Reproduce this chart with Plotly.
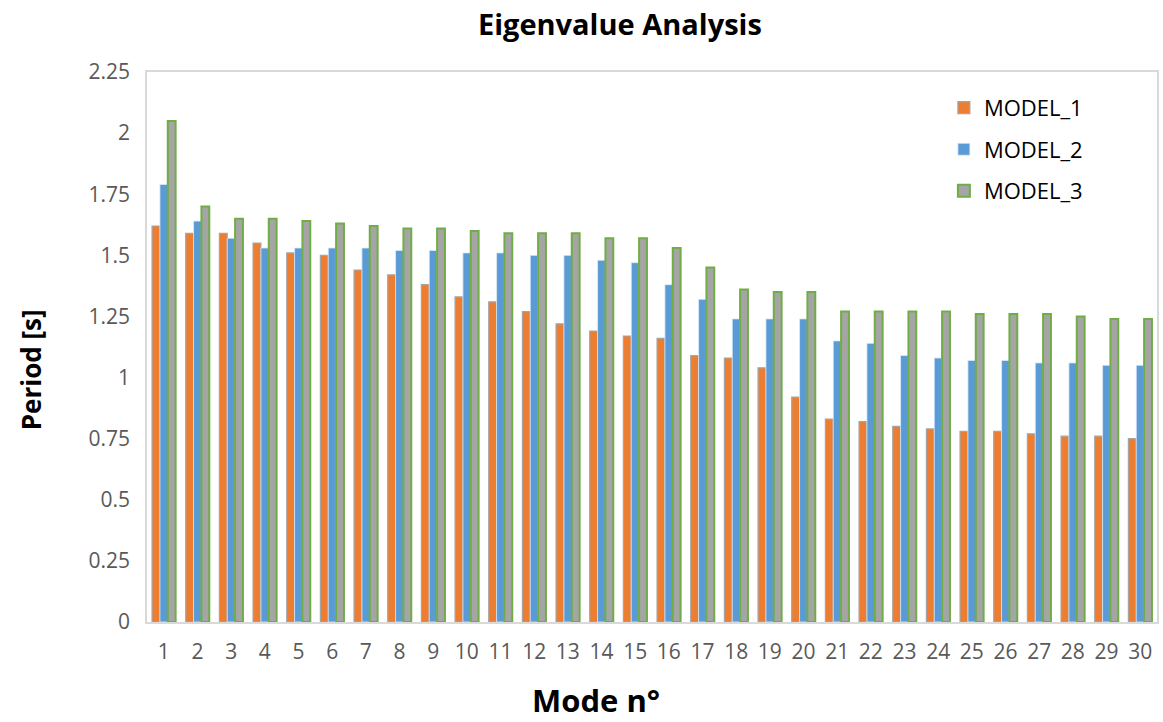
import plotly.graph_objects as go

modes = [str(i) for i in range(1, 31)]
model_1 = [1.62, 1.59, 1.59, 1.55, 1.51, 1.50, 1.44, 1.42, 1.38, 1.33,
           1.31, 1.27, 1.22, 1.19, 1.17, 1.16, 1.09, 1.08, 1.04, 0.92,
           0.83, 0.82, 0.80, 0.79, 0.78, 0.78, 0.77, 0.76, 0.76, 0.75]
model_2 = [1.79, 1.64, 1.57, 1.53, 1.53, 1.53, 1.53, 1.52, 1.52, 1.51,
           1.51, 1.50, 1.50, 1.48, 1.47, 1.38, 1.32, 1.24, 1.24, 1.24,
           1.15, 1.14, 1.09, 1.08, 1.07, 1.07, 1.06, 1.06, 1.05, 1.05]
model_3 = [2.05, 1.70, 1.65, 1.65, 1.64, 1.63, 1.62, 1.61, 1.61, 1.60,
           1.59, 1.59, 1.59, 1.57, 1.57, 1.53, 1.45, 1.36, 1.35, 1.35,
           1.27, 1.27, 1.27, 1.27, 1.26, 1.26, 1.26, 1.25, 1.24, 1.24]
y_ticks = [0, 0.25, 0.5, 0.75, 1, 1.25, 1.5, 1.75, 2, 2.25]
y_tick_text = ["0", "0.25", "0.5", "0.75", "1", "1.25", "1.5", "1.75", "2", "2.25"]

FONT = "Open Sans"

fig = go.Figure()
fig.add_trace(go.Bar(x=modes, y=model_1, name="MODEL_1", legendgroup="a",
                     marker=dict(color="#ED7D31", line=dict(color="#A5A5A5", width=1.2))))
fig.add_trace(go.Bar(x=modes, y=model_2, name="MODEL_2", legendgroup="b",
                     marker=dict(color="#5B9BD5", line=dict(color="#DEEBF7", width=0.8))))
fig.add_trace(go.Bar(x=modes, y=model_3, name="MODEL_3", legendgroup="c",
                     marker=dict(color="#A5A5A5", line=dict(color="#70AD47", width=2))))

W, H = 1163, 722
L, R, T, B = 147, 4, 72, 100
pw, ph = W - L - R, H - T - B

fig.update_layout(
    width=W, height=H,
    margin=dict(l=L, r=R, t=T, b=B),
    paper_bgcolor="white", plot_bgcolor="white",
    barmode="group", bargap=0.30, bargroupgap=0,
    font=dict(family=FONT, color="#595959"),
    title=dict(text="<b>Eigenvalue Analysis</b>", x=0.533, xref="container",
               y=0.965, yref="container", xanchor="center", yanchor="middle",
               font=dict(family=FONT, size=29, color="black")),
    legend=dict(x=0.789, y=0.973, xref="paper", yref="paper", xanchor="left", yanchor="top",
                font=dict(family=FONT, size=22, color="black"),
                tracegroupgap=10, bgcolor="rgba(0,0,0,0)"),
    showlegend=True,
)
fig.add_annotation(text="<b>Mode n°</b>", x=(597 - L) / pw, y=-(700 - (H - B)) / ph,
                   xref="paper", yref="paper", showarrow=False,
                   font=dict(family=FONT, size=31, color="black"),
                   xanchor="center", yanchor="middle")
fig.add_annotation(text="<b>Period [s]</b>", x=-(L - 31) / pw, y=((H - B) - 370) / ph,
                   xref="paper", yref="paper", showarrow=False, textangle=-90,
                   font=dict(family=FONT, size=26, color="black"),
                   xanchor="center", yanchor="middle")

fig.update_xaxes(
    type="category", showgrid=False, zeroline=False,
    showline=True, mirror=True, linecolor="#D9D9D9", linewidth=1.5,
    ticks="", ticklabelstandoff=10, tickfont=dict(family=FONT, size=21, color="#595959"),
)
fig.update_yaxes(
    range=[0, 2.25], tickvals=y_ticks, ticktext=y_tick_text,
    showgrid=False, zeroline=False,
    showline=True, mirror=True, linecolor="#D9D9D9", linewidth=1.5,
    ticks="", ticklabelstandoff=11, tickfont=dict(family=FONT, size=21, color="#595959"),
)

fig.write_html("out.html")
